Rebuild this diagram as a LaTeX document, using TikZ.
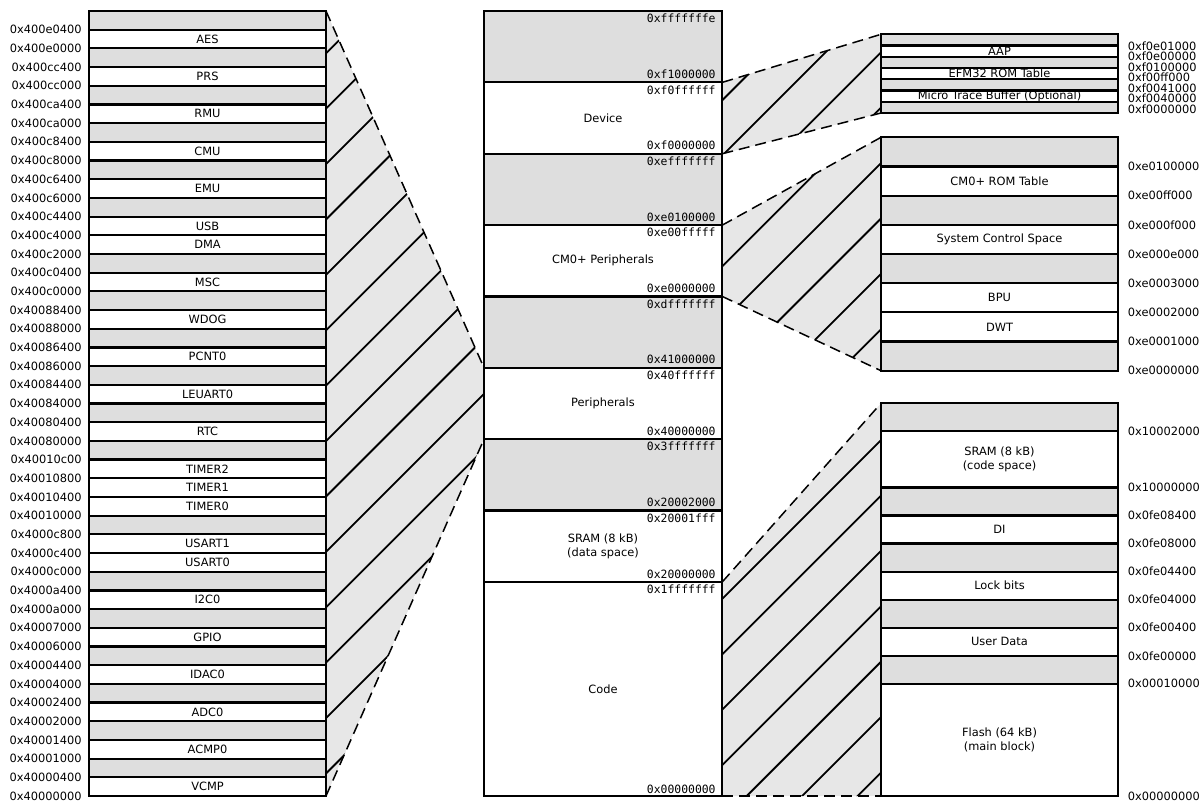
\documentclass[tikz,border=0pt]{standalone}
\usepackage{fontspec}
\setmainfont{DejaVu Sans}
\setmonofont{DejaVu Sans Mono}
\definecolor{rowgray}{RGB}{222,222,222}
\definecolor{trapgray}{RGB}{231,231,231}
\begin{document}
\begin{tikzpicture}[x=0.5pt,y=-0.5pt,
  every node/.style={font=\fontsize{5.7pt}{7pt}\selectfont, inner sep=0pt},
  boxline/.style={draw=black, line width=1.1pt},
  hexmono/.style={font=\ttfamily\fontsize{5.7pt}{7pt}\selectfont, anchor=east},
  hexlab/.style={anchor=east},
  hexlabr/.style={anchor=west},
  dashedge/.style={draw=black, line width=0.75pt, dash pattern=on 5.5pt off 3pt},
  hatchline/.style={draw=black, line width=0.9pt},
  twoline/.style={align=center}
]
\useasboundingbox (0,0) rectangle (1199,800);
\def\lh{18.690}
\def\mh{71.364}
\def\rth{11.243}
\def\rmh{29.175}
\def\rbu{28.05}
% corner coordinates
\coordinate (Ltop) at (326,11);
\coordinate (Lbot) at (326,796);
\coordinate (Ptop) at (484,367.82);
\coordinate (Pbot) at (484,439.18);
\coordinate (Dtop) at (722.3,82.36);
\coordinate (Dbot) at (722.3,153.73);
\coordinate (RTtop) at (881,34.3);
\coordinate (RTbot) at (881,113);
\coordinate (Ctop) at (722.3,225.09);
\coordinate (Cbot) at (722.3,296.46);
\coordinate (RMtop) at (881,137.3);
\coordinate (RMbot) at (881,370.7);
\coordinate (Codetop) at (722.3,581.91);
\coordinate (Codebot) at (722.3,796);
\coordinate (RBtop) at (881,403.3);
\coordinate (RBbot) at (881,796);
% trapezoids
\foreach \a/\b/\c/\d in {Ltop/Ptop/Pbot/Lbot, Dtop/RTtop/RTbot/Dbot, Ctop/RMtop/RMbot/Cbot, Codetop/RBtop/RBbot/Codebot}{
  \begin{scope}
    \clip (\a) -- (\b) -- (\c) -- (\d) -- cycle;
    \fill[trapgray] (\a) -- (\b) -- (\c) -- (\d) -- cycle;
    \foreach \k in {0,...,24}
      \draw[hatchline] ({379.3+55.4*\k-1000},1000) -- ({379.3+55.4*\k+100},-100);
  \end{scope}
  \draw[dashedge] (\a) -- (\b);
  \draw[dashedge] (\d) -- (\c);
}
% ---------------- left column ----------------
\fill[white] (89,11) rectangle (326,796);
\foreach \i in {1,3,5,7,9,11,14,16,18,20,22,24,28,31,33,35,37,39,41}
  \fill[rowgray] (89,{11+(\i-1)*\lh}) rectangle (326,{11+\i*\lh});
\foreach \i in {1,...,41}
  \draw[boxline] (89,{11+\i*\lh}) -- (326,{11+\i*\lh});
\draw[boxline] (89,11) rectangle (326,796);
\foreach \i/\t in {2/AES,4/PRS,6/RMU,8/CMU,10/EMU,12/USB,13/DMA,15/MSC,17/WDOG,19/PCNT0,21/LEUART0,23/RTC,25/TIMER2,26/TIMER1,27/TIMER0,29/USART1,30/USART0,32/I2C0,34/GPIO,36/IDAC0,38/ADC0,40/ACMP0,42/VCMP}
  \node (L\i) at (207.5,{11+(\i-0.5)*\lh}) {\t};
\foreach \t [count=\k] in {0x400e0400,0x400e0000,0x400cc400,0x400cc000,0x400ca400,0x400ca000,0x400c8400,0x400c8000,0x400c6400,0x400c6000,0x400c4400,0x400c4000,0x400c2000,0x400c0400,0x400c0000,0x40088400,0x40088000,0x40086400,0x40086000,0x40084400,0x40084000,0x40080400,0x40080000,0x40010c00,0x40010800,0x40010400,0x40010000,0x4000c800,0x4000c400,0x4000c000,0x4000a400,0x4000a000,0x40007000,0x40006000,0x40004400,0x40004000,0x40002400,0x40002000,0x40001400,0x40001000,0x40000400,0x40000000}
  \node[hexlab] (LA\k) at (82,{11+\k*\lh}) {\t};
% ---------------- middle column ----------------
\fill[white] (484,11) rectangle (722.3,796);
\foreach \i in {1,3,5,7}
  \fill[rowgray] (484,{11+(\i-1)*\mh}) rectangle (722.3,{11+\i*\mh});
\foreach \i in {1,...,8}
  \draw[boxline] (484,{11+\i*\mh}) -- (722.3,{11+\i*\mh});
\draw[boxline] (484,11) rectangle (722.3,796);
\node (Mdev) at (603,{11+1.5*\mh}) {Device};
\node (Mcm) at (603,{11+3.5*\mh}) {CM0+ Peripherals};
\node (Mper) at (603,{11+5.5*\mh}) {Peripherals};
\node[twoline] (Msram) at (603,{11+7.5*\mh}) {SRAM (8 kB)\\(data space)};
\node (Mcode) at (603,689) {Code};
\foreach \i/\a/\b in {1/0xfffffffe/0xf1000000,2/0xf0ffffff/0xf0000000,3/0xefffffff/0xe0100000,4/0xe00fffff/0xe0000000,5/0xdfffffff/0x41000000,6/0x40ffffff/0x40000000,7/0x3fffffff/0x20002000,8/0x20001fff/0x20000000}{
  \node[hexmono] (MT\i) at (716,{11+(\i-1)*\mh+7.5}) {\a};
  \node[hexmono] (MB\i) at (716,{11+\i*\mh-8}) {\b};
}
\node[hexmono] (MT9) at (716,{11+8*\mh+7.5}) {0x1fffffff};
\node[hexmono] (MB9) at (716,789) {0x00000000};
% ---------------- right top ----------------
\fill[white] (881,34.3) rectangle (1118,113);
\foreach \i in {1,3,5,7}
  \fill[rowgray] (881,{34.3+(\i-1)*\rth}) rectangle (1118,{34.3+\i*\rth});
\foreach \i in {1,...,6}
  \draw[boxline] (881,{34.3+\i*\rth}) -- (1118,{34.3+\i*\rth});
\draw[boxline] (881,34.3) rectangle (1118,113);
\node (RTaap) at (999.5,{34.3+1.5*\rth}) {AAP};
\node (RTrom) at (999.5,{34.3+3.5*\rth}) {EFM32 ROM Table};
\node (RTmtb) at (999.5,{34.3+5.5*\rth}) {Micro Trace Buffer (Optional)};
\foreach \t/\y [count=\k] in {0xf0e01000/46,0xf0e00000/56.3,0xf0100000/66.8,0xf00ff000/77.3,0xf0041000/88,0xf0040000/98.7,0xf0000000/109.5}
  \node[hexlabr] (RTA\k) at (1127.5,\y) {\t};
% ---------------- right middle ----------------
\fill[white] (881,137.3) rectangle (1118,370.7);
\foreach \i in {1,3,5,8}
  \fill[rowgray] (881,{137.3+(\i-1)*\rmh}) rectangle (1118,{137.3+\i*\rmh});
\foreach \i in {1,...,7}
  \draw[boxline] (881,{137.3+\i*\rmh}) -- (1118,{137.3+\i*\rmh});
\draw[boxline] (881,137.3) rectangle (1118,370.7);
\node (RMrom) at (999.5,{137.3+1.5*\rmh}) {CM0+ ROM Table};
\node (RMscs) at (999.5,{137.3+3.5*\rmh}) {System Control Space};
\node (RMbpu) at (999.5,{137.3+5.5*\rmh}) {BPU};
\node (RMdwt) at (999.5,{137.3+6.5*\rmh}) {DWT};
\foreach \t [count=\k] in {0xe0100000,0xe00ff000,0xe000f000,0xe000e000,0xe0003000,0xe0002000,0xe0001000,0xe0000000}
  \node[hexlabr] (RMA\k) at (1127.5,{137.3+\k*\rmh}) {\t};
% ---------------- right bottom ----------------
\fill[white] (881,403.3) rectangle (1118,796);
\foreach \a/\b in {0/1,3/4,5/6,7/8,9/10}
  \fill[rowgray] (881,{403.3+\a*\rbu}) rectangle (1118,{403.3+\b*\rbu});
\foreach \u in {1,3,4,5,6,7,8,9,10}
  \draw[boxline] (881,{403.3+\u*\rbu}) -- (1118,{403.3+\u*\rbu});
\draw[boxline] (881,403.3) rectangle (1118,796);
\node[twoline] (RBsram) at (999.5,{403.3+2*\rbu}) {SRAM (8 kB)\\(code space)};
\node (RBdi) at (999.5,{403.3+4.5*\rbu}) {DI};
\node (RBlock) at (999.5,{403.3+6.5*\rbu}) {Lock bits};
\node (RBuser) at (999.5,{403.3+8.5*\rbu}) {User Data};
\node[twoline] (RBflash) at (999.5,{403.3+12*\rbu}) {Flash (64 kB)\\(main block)};
\foreach \t/\u [count=\k] in {0x10002000/1,0x10000000/3,0x0fe08400/4,0x0fe08000/5,0x0fe04400/6,0x0fe04000/7,0x0fe00400/8,0x0fe00000/9,0x00010000/10}
  \node[hexlabr] (RBA\k) at (1127.5,{403.3+\u*\rbu}) {\t};
\node[hexlabr] (RBA10) at (1127.5,796) {0x00000000};
\end{tikzpicture}
\end{document}
